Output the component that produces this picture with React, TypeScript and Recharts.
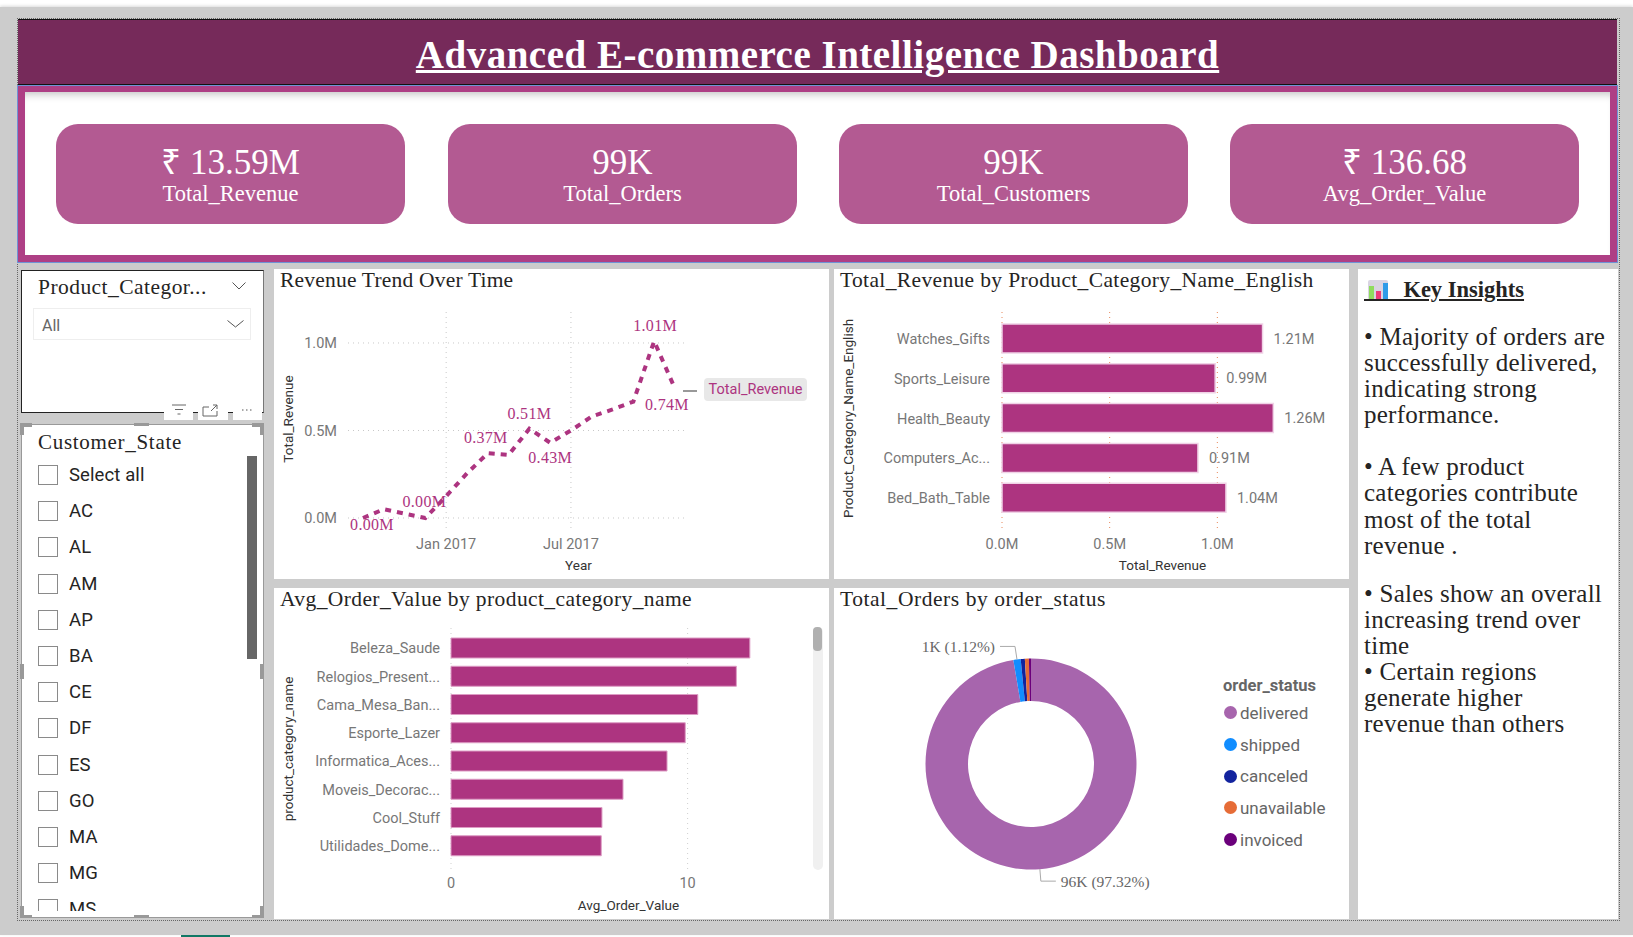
import React from 'react';
import {
  LineChart, Line, BarChart, Bar, PieChart, Pie, Cell, XAxis, YAxis, CartesianGrid,
  LabelList, Legend,
} from 'recharts';

const SERIF = "'Liberation Serif', serif";
const SANS = "Roboto, 'Open Sans', sans-serif";
const BAR_COLOR = '#ad3480';
const TICK_COLOR = '#777777';

// months since Sep 2016 (there is no Nov 2016 in the data)
const trendMonths = [0, 1, 3, 4, 5, 6, 7, 8, 9, 10, 11, 12, 13, 14, 15];
const trendRevenue = [0.0, 0.05, 0.0, 0.125, 0.255, 0.37, 0.36, 0.51, 0.43, 0.5, 0.58, 0.62, 0.665, 1.01, 0.74];
const trendTicks = [4, 10];
const trendTickLabels = ['Jan 2017', 'Jul 2017'];
const revenueTicks = [0, 0.5, 1];

const revenueCategories = ['Watches_Gifts', 'Sports_Leisure', 'Health_Beauty', 'Computers_Ac...', 'Bed_Bath_Table'];
const revenueValues = [1.21, 0.99, 1.26, 0.91, 1.04];

const avgCategories = ['Beleza_Saude', 'Relogios_Present...', 'Cama_Mesa_Ban...', 'Esporte_Lazer', 'Informatica_Aces...', 'Moveis_Decorac...', 'Cool_Stuff', 'Utilidades_Dome...'];
const avgValues = [12.63, 12.06, 10.43, 9.9, 9.13, 7.27, 6.38, 6.35];

const statusNames = ['delivered', 'shipped', 'canceled', 'unavailable', 'invoiced'];
const statusOrders = [96478, 1107, 625, 609, 314];
const statusColors = ['#a765ad', '#118dff', '#12239e', '#e66c37', '#6b007b'];
const statusLabels = ['96K (97.32%)', '1K (1.12%)', '', '', ''];

const kpiValues = ['₹ 13.59M', '99K', '99K', '₹ 136.68'];
const kpiNames = ['Total_Revenue', 'Total_Orders', 'Total_Customers', 'Avg_Order_Value'];
const kpiLefts = [56, 448, 839, 1230];

const stateNames = ['Select all', 'AC', 'AL', 'AM', 'AP', 'BA', 'CE', 'DF', 'ES', 'GO', 'MA', 'MG', 'MS'];

const insightBlocks = [
  ['• Majority of orders are', 'successfully delivered,', 'indicating strong', 'performance.'],
  ['• A few product', 'categories contribute', 'most of the total', 'revenue .'],
  ['• Sales show an overall', 'increasing trend over', 'time'],
  ['• Certain regions', 'generate higher', 'revenue than others'],
];
const insightGaps = [0, 26, 22, 0];

const trendData = trendMonths.map((month, i) => ({ month, revenue: trendRevenue[i] }));
const revenueData = revenueCategories.map((name, i) => ({ name, value: revenueValues[i] }));
const avgData = avgCategories.map((name, i) => ({ name, value: avgValues[i] }));
const statusData = statusNames.map((name, i) => ({ name, value: statusOrders[i] }));

// where each shown label of the trend line sits, relative to its point
const trendLabelOffsets: Record<number, [number, number]> = {
  0: [9, 7],
  2: [-1, -16],
  5: [-2, -16],
  7: [0, -15],
  8: [0, 15],
  13: [1, -16],
  14: [-8, 16],
};

const renderTrendLabel = (props: any) => {
  const offset = trendLabelOffsets[props.index];
  if (!offset) return null;
  return (
    <text
      x={props.x + offset[0]}
      y={props.y + offset[1]}
      textAnchor="middle"
      dominantBaseline="central"
      fill={BAR_COLOR}
      fontFamily={SERIF}
      fontSize={16}
      letterSpacing={0.3}
    >
      {Number(props.value).toFixed(2)}M
    </text>
  );
};

const renderStatusLabel = (props: any) => {
  const text = statusLabels[props.index];
  if (!text) return null;
  const rad = (props.midAngle * Math.PI) / 180;
  const ex = props.cx + props.outerRadius * Math.cos(rad);
  const ey = props.cy - props.outerRadius * Math.sin(rad);
  const up = ey < props.cy;
  const ky = up ? ey - 13 : ey + 12;
  const kx = up ? ex - 2 : ex + 1;
  const hx = up ? kx - 15 : kx + 15;
  return (
    <g>
      <polyline points={`${ex},${ey} ${kx},${ky} ${hx},${ky}`} fill="none" stroke="#aaaaaa" strokeWidth={1} />
      <text
        x={up ? hx - 5 : hx + 5}
        y={ky}
        textAnchor={up ? 'end' : 'start'}
        dominantBaseline="central"
        fill="#666666"
        fontFamily={SERIF}
        fontSize={15.5}
      >
        {text}
      </text>
    </g>
  );
};

const renderStatusLegend = () => (
  <div style={{ fontFamily: SANS, color: '#666666' }}>
    <div style={{ fontSize: 16.5, fontWeight: 700, height: 24, lineHeight: '26px' }}>order_status</div>
    {statusNames.map((name, i) => (
      <div key={name} style={{ display: 'flex', alignItems: 'center', height: 31.7, fontSize: 17 }}>
        <span style={{ width: 13, height: 13, borderRadius: 7, background: statusColors[i], marginLeft: 1, marginRight: 3 }} />
        {name}
      </div>
    ))}
  </div>
);

const Panel = ({ x, y, w, h, title, spacing = 0.2, children }: any) => (
  <div style={{ position: 'absolute', left: x, top: y, width: w, height: h, background: '#fff' }}>
    {children}
    {title && (
      <div style={{ position: 'absolute', left: 6, top: -2, fontFamily: SERIF, fontSize: 21.5, lineHeight: '26px', color: '#252423', whiteSpace: 'nowrap', letterSpacing: spacing }}>
        {title}
      </div>
    )}
  </div>
);

const Chevron = ({ x, y, w = 14 }: any) => (
  <svg style={{ position: 'absolute', left: x, top: y }} width={w} height={8}>
    <polyline points={`0.5,0.5 ${w / 2},7 ${w - 0.5},0.5`} fill="none" stroke="#555" strokeWidth={1} />
  </svg>
);

const box = (x: number, y: number, w: number, h: number, background: string): React.CSSProperties => ({
  position: 'absolute', left: x, top: y, width: w, height: h, background,
});

const axisTitle = { fill: '#333333', fontFamily: SANS, fontSize: 13.5 };
const tickStyle = { fill: TICK_COLOR, fontFamily: SANS, fontSize: 14.5 };

export default function App() {
  return (
    <div style={{ position: 'absolute', left: 0, top: 0, width: 1633, height: 937, overflow: 'hidden', background: '#fff' }}>
      <div style={{ ...box(0, 7, 1633, 928, '#cccccc'), boxShadow: '0 -1px 3px rgba(0,0,0,0.15)' }} />
      <div style={box(181, 935, 49, 2, '#117865')} />
      <div style={{ position: 'absolute', left: 17, top: 18, width: 1601, height: 901, border: '1.5px dotted #666' }} />

      {/* header */}
      <div style={{ position: 'absolute', left: 18, top: 19, width: 1599, height: 64, background: '#762a5a', borderTop: '1px solid #111', borderBottom: '1px solid #111', textAlign: 'center', color: '#fff', fontFamily: SERIF, fontWeight: 700, fontSize: 39, lineHeight: '70px', textDecoration: 'underline', letterSpacing: 0.5 }}>
        Advanced E-commerce Intelligence Dashboard
      </div>

      {/* KPI band */}
      <div style={{ position: 'absolute', left: 18, top: 86, width: 1599, height: 176, boxSizing: 'border-box', background: '#fff', border: '7px solid #ae3f85', borderTopWidth: 6, outline: '1px solid #6f93d6', boxShadow: 'inset 0 8px 8px -6px rgba(0,0,0,0.25)' }} />
      {kpiValues.map((value, i) => (
        <div key={kpiNames[i]} style={{ position: 'absolute', left: kpiLefts[i], top: 124, width: 349, height: 100, background: '#b35a92', borderRadius: 22, color: '#fff', textAlign: 'center', fontFamily: SERIF }}>
          <div style={{ position: 'absolute', left: 0, right: 0, top: 18, fontSize: 35, lineHeight: '42px' }}>{value}</div>
          <div style={{ position: 'absolute', left: 0, right: 0, top: 56, fontSize: 22.5, lineHeight: '28px' }}>{kpiNames[i]}</div>
        </div>
      ))}

      {/* category slicer */}
      <div style={{ position: 'absolute', left: 21, top: 270, width: 243, height: 143, boxSizing: 'border-box', background: '#fff', borderTop: '1.5px solid #222', borderLeft: '1.5px solid #222', borderBottom: '1.5px solid #222', borderRight: '1.5px solid #777' }}>
        <div style={{ position: 'absolute', left: 16, top: 3, fontFamily: SERIF, fontSize: 21.5, lineHeight: '26px', letterSpacing: 0.45, color: '#252423' }}>Product_Categor...</div>
        <Chevron x={210} y={11} />
        <div style={{ position: 'absolute', left: 11, top: 37, width: 218, height: 32, boxSizing: 'border-box', border: '1px solid #eeeeee', fontFamily: SANS, fontSize: 16, lineHeight: '34px', color: '#666', paddingLeft: 8 }}>All</div>
        <Chevron x={205} y={49} w={17} />
      </div>
      <div style={box(164, 402, 29, 18, '#fff')} />
      <div style={box(198, 402, 30, 18, '#fff')} />
      <div style={box(233, 402, 29, 18, '#fff')} />
      <svg style={{ position: 'absolute', left: 171, top: 403 }} width={84} height={14}>
        <path d="M1 2H15M4 6.5H12M6.5 11H9.5" stroke="#666" fill="none" />
        <path d="M38 4H32V13H46V8M40 8L46 2M42 2H46V6" stroke="#666" fill="none" />
        <path d="M71 7h1.5M75 7h1.5M79 7h1.5" stroke="#555" fill="none" />
      </svg>

      {/* state slicer */}
      <div style={{ position: 'absolute', left: 21, top: 424, width: 243, height: 494, boxSizing: 'border-box', background: '#fff', border: '1.5px solid #999', overflow: 'hidden' }}>
        <div style={{ position: 'absolute', left: 16, top: 4, fontFamily: SERIF, fontSize: 21, lineHeight: '26px', letterSpacing: 0.7, color: '#252423' }}>Customer_State</div>
        {stateNames.map((name, i) => (
          <div key={name} style={{ position: 'absolute', left: 16, top: 39 + i * 36.2, height: 22, display: 'flex', alignItems: 'center' }}>
            <span style={{ width: 18, height: 18, border: '1.5px solid #8a8a8a', display: 'inline-block', marginRight: 11 }} />
            <span style={{ fontFamily: SANS, fontSize: 18.5, color: '#252423', letterSpacing: 0.1 }}>{name}</span>
          </div>
        ))}
        <div style={box(-2, 486, 245, 8, '#fff')} />
        <div style={box(225, 31, 10, 203, '#666666')} />
      </div>
      {[[20, 423, 12, 4], [20, 423, 4, 12], [252, 423, 12, 4], [260, 423, 4, 12], [20, 915, 12, 3], [20, 906, 4, 12], [252, 915, 12, 3], [260, 906, 4, 12], [134, 423, 15, 3], [134, 915, 15, 3], [20, 664, 4, 15], [260, 664, 4, 15]].map((r, i) => (
        <div key={i} style={box(r[0], r[1], r[2], r[3], '#999999')} />
      ))}

      {/* revenue trend */}
      <Panel x={274} y={269} w={555} h={310} title="Revenue Trend Over Time">
        <LineChart width={555} height={310} data={trendData} margin={{ top: 43, right: 142, bottom: 0, left: 0 }} style={{ position: 'absolute', left: 0, top: 0 }}>
          <CartesianGrid stroke="#c8c8c8" strokeDasharray="1 4" syncWithTicks />
          <XAxis
            dataKey="month"
            type="number"
            domain={[-0.72, 15.58]}
            ticks={trendTicks}
            tickFormatter={(v: number) => trendTickLabels[trendTicks.indexOf(v)]}
            height={47}
            axisLine={false}
            tickLine={false}
            tick={tickStyle}
            tickMargin={1}
            label={{ value: 'Year', position: 'insideBottom', offset: 9, dx: 61, ...axisTitle }}
          />
          <YAxis
            type="number"
            domain={[-0.08, 1.177]}
            ticks={revenueTicks}
            tickFormatter={(v: number) => `${v.toFixed(1)}M`}
            width={74}
            axisLine={false}
            tickLine={false}
            tick={tickStyle}
            tickMargin={5}
            label={{ value: 'Total_Revenue', angle: -90, position: 'insideLeft', offset: 14, dy: -3, style: { textAnchor: 'middle' }, ...axisTitle }}
          />
          <Line
            dataKey="revenue"
            stroke={BAR_COLOR}
            strokeWidth={4}
            strokeDasharray="6 6"
            dot={false}
            isAnimationActive={false}
            label={renderTrendLabel}
          />
        </LineChart>
        <div style={box(409, 121, 14, 1.5, '#999')} />
        <div style={{ position: 'absolute', left: 430, top: 109, width: 103, height: 23, borderRadius: 4, background: '#e8e8e8', color: BAR_COLOR, fontFamily: SANS, fontSize: 14.5, lineHeight: '24px', textAlign: 'center' }}>Total_Revenue</div>
      </Panel>

      {/* revenue by category */}
      <Panel x={834} y={269} w={515} h={310} title="Total_Revenue by Product_Category_Name_English" spacing={0.36}>
        <BarChart width={515} height={310} data={revenueData} layout="vertical" barCategoryGap={0} margin={{ top: 43, right: 24, bottom: 0, left: 0 }} style={{ position: 'absolute', left: 0, top: 0 }}>
          <CartesianGrid horizontal={false} stroke="#e8875a" strokeDasharray="1 4" syncWithTicks />
          <XAxis
            type="number"
            domain={[0, 1.5]}
            ticks={revenueTicks}
            tickFormatter={(v: number) => `${v.toFixed(1)}M`}
            height={48}
            axisLine={false}
            tickLine={false}
            tick={tickStyle}
            label={{ value: 'Total_Revenue', position: 'insideBottom', offset: 9, dx: -1, ...axisTitle }}
          />
          <YAxis
            type="category"
            dataKey="name"
            width={168}
            interval={0}
            padding={{ top: 7, bottom: 13 }}
            axisLine={false}
            tickLine={false}
            tick={tickStyle}
            tickMargin={6}
            label={{ value: 'Product_Category_Name_English', angle: -90, position: 'insideLeft', offset: 14, dy: -3, style: { textAnchor: 'middle' }, ...axisTitle }}
          />
          <Bar dataKey="value" fill={BAR_COLOR} stroke="#f0d2e6" strokeWidth={1.5} barSize={29} isAnimationActive={false}>
            <LabelList dataKey="value" position="right" offset={11} formatter={(v: any) => `${Number(v).toFixed(2)}M`} fill={TICK_COLOR} fontFamily={SANS} fontSize={14.5} />
          </Bar>
        </BarChart>
      </Panel>

      {/* average order value */}
      <Panel x={274} y={588} w={555} h={331} title="Avg_Order_Value by product_category_name" spacing={0.4}>
        <BarChart width={555} height={331} data={avgData} layout="vertical" barCategoryGap={0} margin={{ top: 40, right: 29, bottom: 0, left: 0 }} style={{ position: 'absolute', left: 0, top: 0 }}>
          <CartesianGrid horizontal={false} stroke="#cfcfcf" strokeDasharray="1 4" syncWithTicks />
          <XAxis
            type="number"
            domain={[0, 14.75]}
            ticks={[0, 10]}
            height={49}
            axisLine={false}
            tickLine={false}
            tick={tickStyle}
            label={{ value: 'Avg_Order_Value', position: 'insideBottom', offset: 9, dx: 3, ...axisTitle }}
          />
          <YAxis
            type="category"
            dataKey="name"
            width={177}
            interval={0}
            padding={{ top: 6, bottom: 10 }}
            axisLine={false}
            tickLine={false}
            tick={tickStyle}
            tickMargin={5}
            label={{ value: 'product_category_name', angle: -90, position: 'insideLeft', offset: 14, style: { textAnchor: 'middle' }, ...axisTitle }}
          />
          <Bar dataKey="value" fill={BAR_COLOR} stroke="#dd9cc4" strokeWidth={1} barSize={20} isAnimationActive={false} />
        </BarChart>
        <div style={{ ...box(539, 39, 10, 243, '#f0f0f0'), borderRadius: 5 }} />
        <div style={{ ...box(539, 39, 9, 24, '#b0b0b0'), borderRadius: 4 }} />
      </Panel>

      {/* order status donut */}
      <Panel x={834} y={588} w={515} h={331} title="Total_Orders by order_status" spacing={0.55}>
        <PieChart width={515} height={331} margin={{ top: 0, right: 0, bottom: 0, left: 0 }} style={{ position: 'absolute', left: 0, top: 0 }}>
          <Pie
            data={statusData}
            dataKey="value"
            nameKey="name"
            cx={197}
            cy={176}
            outerRadius={105.5}
            innerRadius={63}
            startAngle={90}
            endAngle={-270}
            stroke="none"
            isAnimationActive={false}
            label={renderStatusLabel}
            labelLine={false}
          >
            {statusData.map((d, i) => <Cell key={d.name} fill={statusColors[i]} />)}
          </Pie>
          <Legend content={renderStatusLegend} layout="vertical" align="right" verticalAlign="top" wrapperStyle={{ left: 389, right: 'auto', top: 85, width: 120 }} />
        </PieChart>
      </Panel>

      {/* key insights */}
      <Panel x={1358} y={269} w={260} h={650}>
        <svg style={{ position: 'absolute', left: 10, top: 11 }} width={20} height={20}>
          <rect x={0} y={0} width={20} height={20} rx={2} fill="#d9d4e2" />
          <rect x={1} y={6} width={5} height={14} fill="#8fdc5e" />
          <rect x={8} y={11} width={5} height={9} fill="#ee3a78" />
          <rect x={15} y={3} width={5} height={17} fill="#2f9be8" />
        </svg>
        <div style={{ position: 'absolute', left: 6, top: 7, fontFamily: SERIF, fontWeight: 700, fontSize: 22.5, lineHeight: '28px', color: '#252423', textDecoration: 'underline', whiteSpace: 'pre' }}>
          {'       Key Insights'}
        </div>
        <div style={{ position: 'absolute', left: 6, top: 55, fontFamily: SERIF, fontSize: 25, lineHeight: '26.1px', letterSpacing: 0.25, color: '#252423', whiteSpace: 'nowrap' }}>
          {insightBlocks.map((lines, i) => (
            <div key={i} style={{ marginTop: insightGaps[i] }}>
              {lines.map((line) => <div key={line}>{line}</div>)}
            </div>
          ))}
        </div>
      </Panel>
    </div>
  );
}
